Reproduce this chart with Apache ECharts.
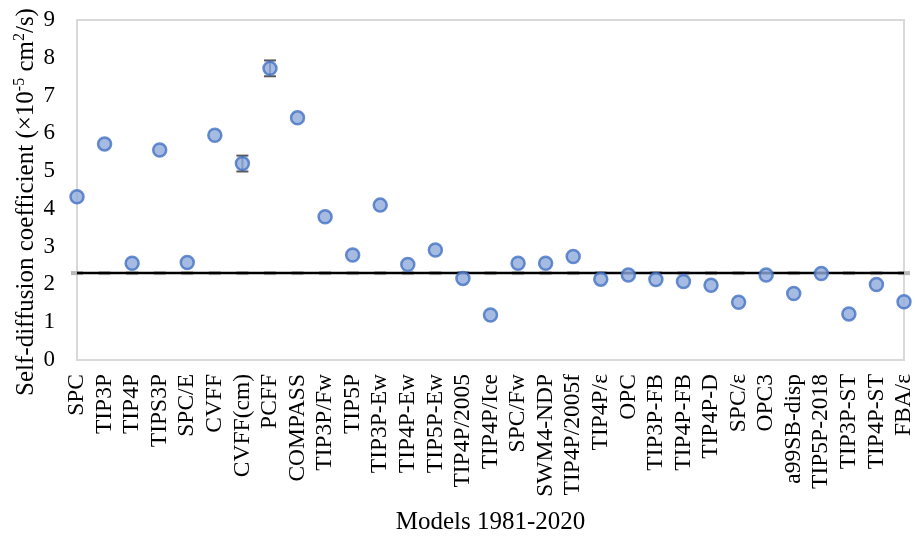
<!DOCTYPE html>
<html>
<head>
<meta charset="utf-8">
<script src="https://cdn.jsdelivr.net/npm/echarts@6/dist/echarts.min.js"></script>
<style>
  html, body { margin: 0; padding: 0; background: #fff; }
  #chart { width: 915px; height: 537px; }
</style>
</head>
<body>
<div id="chart"></div>
<script>
// Water models, in order of publication
const models = [
  'SPC', 'TIP3P', 'TIP4P', 'TIPS3P', 'SPC/E', 'CVFF', 'CVFF(cm)', 'PCFF', 'COMPASS',
  'TIP3P/Fw', 'TIP5P', 'TIP3P-Ew', 'TIP4P-Ew', 'TIP5P-Ew', 'TIP4P/2005', 'TIP4P/Ice',
  'SPC/Fw', 'SWM4-NDP', 'TIP4P/2005f', 'TIP4P/ε', 'OPC', 'TIP3P-FB', 'TIP4P-FB',
  'TIP4P-D', 'SPC/ε', 'OPC3', 'a99SB-disp', 'TIP5P-2018', 'TIP3P-ST', 'TIP4P-ST', 'FBA/ε'
];

// Self-diffusion coefficient, ×10^-5 cm²/s
const diffusion = [
  4.32, 5.72, 2.56, 5.56, 2.58, 5.95, 5.20, 7.72, 6.41,
  3.79, 2.78, 4.10, 2.53, 2.91, 2.16, 1.19,
  2.56, 2.56, 2.74, 2.14, 2.25, 2.13, 2.08,
  1.98, 1.53, 2.25, 1.76, 2.29, 1.22, 2.00, 1.54
];

// Standard deviations (only those large enough to show outside the marker)
const errors = [
  0, 0, 0, 0, 0, 0, 0.21, 0.21, 0,
  0, 0, 0, 0, 0, 0, 0,
  0, 0, 0, 0, 0, 0, 0,
  0, 0, 0, 0, 0, 0, 0, 0
];

// Experimental value at 298 K
const experimental = 2.30;

const yTicks = { min: 0, max: 9, interval: 1 };

const serif = '"Liberation Serif", "Times New Roman", serif';
const expLine = models.map(() => experimental);
const errorData = models.map((m, i) => [i, diffusion[i], errors[i]]).filter(d => d[2] > 0);

const chart = echarts.init(document.getElementById('chart'), null, { renderer: 'canvas' });

chart.setOption({
  animation: false,
  backgroundColor: '#ffffff',
  grid: {
    left: 77, right: 11, top: 20, bottom: 177,
    containLabel: false,
    outerBoundsMode: 'none',
    show: true, borderColor: '#d9d9d9', borderWidth: 2, backgroundColor: 'transparent'
  },
  xAxis: {
    type: 'category',
    data: models,
    boundaryGap: false,
    axisLine: { show: false },
    axisTick: { show: false },
    splitLine: { show: false },
    axisLabel: {
      interval: 0, rotate: 90, margin: 14,
      fontFamily: serif, fontSize: 23.5, color: '#000'
    },
    name: 'Models 1981-2020',
    nameLocation: 'middle',
    nameGap: 150,
    nameMoveOverlap: false,
    nameTextStyle: { fontFamily: serif, fontSize: 25, color: '#000' }
  },
  yAxis: {
    type: 'value',
    min: yTicks.min, max: yTicks.max, interval: yTicks.interval,
    axisLine: { show: false },
    axisTick: { show: false },
    splitLine: { show: false },
    axisLabel: { margin: 22, fontFamily: serif, fontSize: 23, color: '#000' },
    name: 'Self-diffusion coefficient (×10{sup|-5} cm{sup|2}/s)',
    nameLocation: 'middle',
    nameRotate: 90,
    nameGap: 37,
    nameMoveOverlap: false,
    nameTextStyle: {
      fontFamily: serif, fontSize: 25, color: '#000',
      padding: [0, 24, 0, 0],
      rich: {
        sup: { fontFamily: serif, fontSize: 16, color: '#000', verticalAlign: 'top', padding: [0, 0, 12, 0] }
      }
    }
  },
  series: [
    {
      name: 'exp-marks',
      type: 'scatter',
      data: expLine,
      symbol: 'rect',
      symbolSize: [12, 4],
      itemStyle: { color: '#a6a6a6' },
      z: 1,
      silent: true
    },
    {
      name: 'experimental',
      type: 'line',
      data: expLine,
      showSymbol: false,
      symbol: 'none',
      lineStyle: { color: '#000', width: 2.5 },
      z: 2,
      silent: true
    },
    {
      name: 'error',
      type: 'custom',
      data: errorData,
      z: 3,
      renderItem: function (params, api) {
        const x = api.value(0), y = api.value(1), e = api.value(2);
        const top = api.coord([x, y + e]);
        const bot = api.coord([x, y - e]);
        const half = 6;
        const style = { stroke: '#595959', lineWidth: 2 };
        return {
          type: 'group',
          children: [
            { type: 'line', shape: { x1: top[0], y1: top[1], x2: bot[0], y2: bot[1] }, style },
            { type: 'line', shape: { x1: top[0] - half, y1: top[1], x2: top[0] + half, y2: top[1] }, style },
            { type: 'line', shape: { x1: bot[0] - half, y1: bot[1], x2: bot[0] + half, y2: bot[1] }, style }
          ]
        };
      }
    },
    {
      name: 'diffusion',
      type: 'scatter',
      data: diffusion,
      symbol: 'circle',
      symbolSize: 13,
      itemStyle: { color: '#8eaadb', borderColor: '#4472c4', borderWidth: 2.5 },
      z: 4
    }
  ]
});
</script>
</body>
</html>
